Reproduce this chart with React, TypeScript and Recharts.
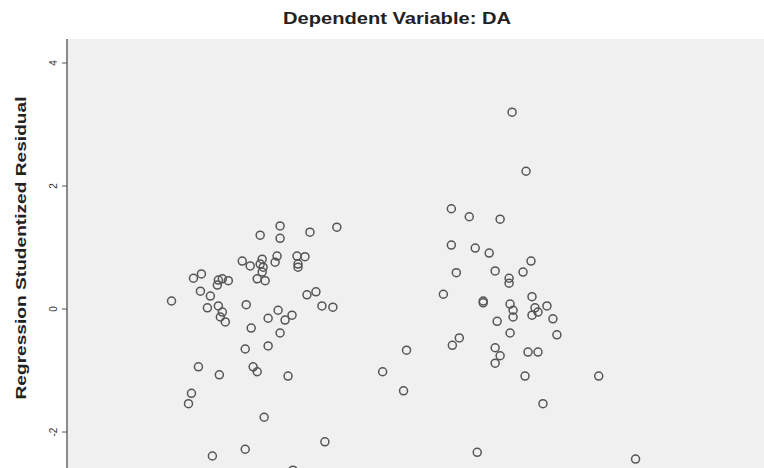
import React from "react";
import { ScatterChart, Scatter, XAxis, YAxis, CartesianGrid } from "recharts";

const title = "Dependent Variable: DA";
const yLabel = "Regression Studentized Residual";
const yTicks = [-2, 0, 2, 4];

// Regression standardized predicted value (x) and studentized residual (y)
const predicted = [
  -1.95, -1.73, -1.65, -1.66, -1.56, -1.59, -1.48, -1.49, -1.44, -1.38,
  -1.48, -1.44, -1.46, -1.41, -1.68, -1.47, -1.75, -1.78, -1.54, -1.21,
  -1.24, -1.16, -1.06, -1.04, -1.06, -1.03, -1.04, -1.09, -1.01, -1.2,
  -1.15, -1.21, -1.13, -1.09, -1.02, -0.98, -0.98, -0.89, -0.91, -0.86,
  -0.86, -0.88, -0.81, -0.74, -0.86, -0.78, -0.69, -0.61, -0.68, -0.68,
  -0.56, -0.59, -0.5, -0.44, -0.33, -0.29, -0.41, -0.73,
  0.17, 0.41, 0.38,
  1.47, 1.61, 0.86, 1.04, 1.35, 0.86, 1.1, 1.24, 1.66, 0.91,
  1.3, 1.44, 1.44, 1.58, 0.78, 1.18, 1.18, 1.45, 1.48, 1.48,
  1.67, 1.7, 1.67, 1.73, 1.82, 1.88, 1.92, 1.32, 1.45, 0.94,
  0.87, 1.3, 1.35, 1.3, 1.63, 1.73, 1.6, 2.34, 1.78, 1.12, 2.71,
];

const residual = [
  0.13, 0.5, 0.57, 0.29, 0.21, 0.02, 0.47, 0.39, 0.49, 0.46,
  0.05, -0.05, -0.13, -0.21, -0.94, -1.07, -1.37, -1.54, -2.39, -2.28,
  0.78, 0.7, 1.2, 0.81, 0.73, 0.68, 0.6, 0.49, 0.46, 0.07,
  -0.31, -0.65, -0.94, -1.02, -1.76, -0.6, -0.15, 0.86, 0.76, 1.35,
  1.15, -0.02, -0.18, -0.1, -0.39, -1.09, 0.86, 0.85, 0.73, 0.68,
  1.25, 0.23, 0.28, 0.05, 0.03, 1.33, -2.16, -2.62,
  -1.02, -0.67, -1.33,
  3.2, 2.24, 1.63, 1.5, 1.46, 1.04, 0.99, 0.91, 0.78, 0.59,
  0.62, 0.5, 0.42, 0.6, 0.24, 0.13, 0.1, 0.08, -0.02, -0.13,
  0.2, 0.02, -0.1, -0.05, 0.05, -0.16, -0.42, -0.2, -0.39, -0.47,
  -0.59, -0.63, -0.76, -0.88, -0.7, -0.7, -1.09, -1.09, -1.54, -2.33, -2.44,
];

const data = predicted.map((x, i) => ({ x, y: residual[i] }));

const RotTick = (props: any) => {
  const { x, y, payload } = props;
  return (
    <text
      x={x - 3}
      y={y}
      transform={`rotate(-90 ${x - 3} ${y})`}
      textAnchor="middle"
      fontSize={10}
      fill="#333"
      fontFamily="Liberation Sans, Arial, sans-serif"
    >
      {payload.value}
    </text>
  );
};

const Dot = (props: any) => {
  const { cx, cy } = props;
  return <circle cx={cx} cy={cy} r={4} fill="none" stroke="#555" strokeWidth={1.5} />;
};

export default function App() {
  return (
    <div style={{ position: "absolute", left: 0, top: 0, width: 764, height: 468, background: "#fff" }}>
      <ScatterChart width={764} height={468} margin={{ top: 39, right: 0, bottom: 0, left: 0 }}>
        <CartesianGrid fill="#f0f0f0" horizontal={false} vertical={false} />
        <XAxis
          type="number"
          dataKey="x"
          domain={[-3, 4]}
          orientation="top"
          height={0}
          tick={false}
          tickLine={false}
          axisLine={{ stroke: "#999", strokeWidth: 2 }}
          allowDataOverflow
        />
        <YAxis
          type="number"
          dataKey="y"
          domain={[-2.585, 4.39]}
          ticks={yTicks}
          width={67}
          tickSize={5}
          tickLine={{ stroke: "#555" }}
          axisLine={{ stroke: "#666", strokeWidth: 1.5 }}
          tick={<RotTick />}
          allowDataOverflow
          interval={0}
        />
        <Scatter data={data} shape={<Dot />} isAnimationActive={false} />
        <text
          x={397}
          y={24}
          textAnchor="middle"
          fontSize={16}
          fontWeight="bold"
          fill="#222"
          fontFamily="Liberation Sans, Arial, sans-serif"
          textLength={228}
          lengthAdjust="spacingAndGlyphs"
        >
          {title}
        </text>
        <text
          x={26}
          y={248}
          transform="rotate(-90 26 248)"
          textAnchor="middle"
          fontSize={15}
          fontWeight="bold"
          fill="#222"
          fontFamily="Liberation Sans, Arial, sans-serif"
          textLength={303}
          lengthAdjust="spacingAndGlyphs"
        >
          {yLabel}
        </text>
      </ScatterChart>
    </div>
  );
}
